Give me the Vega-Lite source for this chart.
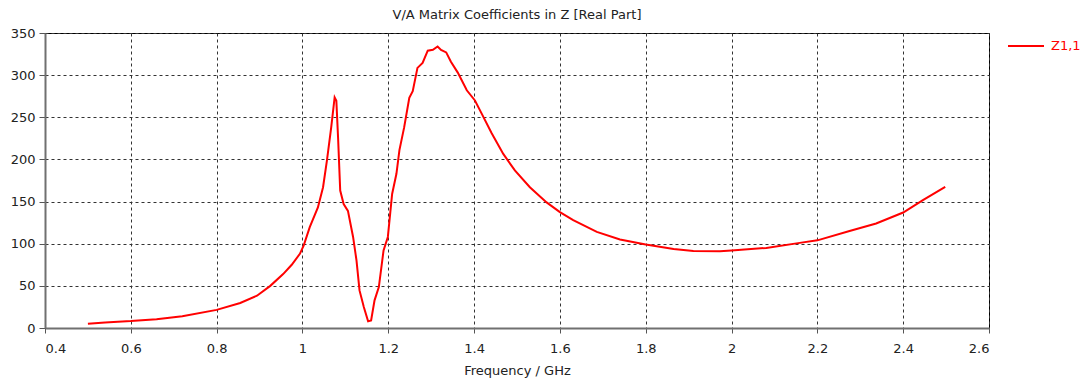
{
  "$schema": "https://vega.github.io/schema/vega-lite/v6.json",
  "width": 944,
  "height": 295,
  "autosize": "none",
  "padding": {"left": 45, "top": 33, "right": 93, "bottom": 53},
  "background": "white",
  "title": {"text": "V/A Matrix Coefficients in Z [Real Part]", "font": "DejaVu Sans", "fontSize": 13, "fontWeight": "normal", "color": "#222", "anchor": "middle", "offset": 5},
  "config": {"view": {"stroke": "black", "strokeWidth": 1}},
  "data": {"values": [
    {"f": 0.50, "z": 5, "s": "Z1,1"},
    {"f": 0.54, "z": 6.6, "s": "Z1,1"},
    {"f": 0.60, "z": 8.2, "s": "Z1,1"},
    {"f": 0.66, "z": 10.5, "s": "Z1,1"},
    {"f": 0.72, "z": 14, "s": "Z1,1"},
    {"f": 0.80, "z": 21.5, "s": "Z1,1"},
    {"f": 0.855, "z": 29.7, "s": "Z1,1"},
    {"f": 0.894, "z": 38.3, "s": "Z1,1"},
    {"f": 0.925, "z": 50, "s": "Z1,1"},
    {"f": 0.955, "z": 64, "s": "Z1,1"},
    {"f": 0.975, "z": 75, "s": "Z1,1"},
    {"f": 0.994, "z": 88, "s": "Z1,1"},
    {"f": 1.003, "z": 98, "s": "Z1,1"},
    {"f": 1.017, "z": 119.6, "s": "Z1,1"},
    {"f": 1.036, "z": 143, "s": "Z1,1"},
    {"f": 1.048, "z": 167, "s": "Z1,1"},
    {"f": 1.057, "z": 198.5, "s": "Z1,1"},
    {"f": 1.067, "z": 238, "s": "Z1,1"},
    {"f": 1.075, "z": 273.5, "s": "Z1,1"},
    {"f": 1.079, "z": 269.5, "s": "Z1,1"},
    {"f": 1.083, "z": 226, "s": "Z1,1"},
    {"f": 1.088, "z": 163, "s": "Z1,1"},
    {"f": 1.096, "z": 147, "s": "Z1,1"},
    {"f": 1.106, "z": 139, "s": "Z1,1"},
    {"f": 1.118, "z": 108, "s": "Z1,1"},
    {"f": 1.126, "z": 80, "s": "Z1,1"},
    {"f": 1.133, "z": 44.6, "s": "Z1,1"},
    {"f": 1.143, "z": 25, "s": "Z1,1"},
    {"f": 1.153, "z": 7.9, "s": "Z1,1"},
    {"f": 1.160, "z": 9, "s": "Z1,1"},
    {"f": 1.168, "z": 32.8, "s": "Z1,1"},
    {"f": 1.178, "z": 48.5, "s": "Z1,1"},
    {"f": 1.189, "z": 92, "s": "Z1,1"},
    {"f": 1.199, "z": 108, "s": "Z1,1"},
    {"f": 1.209, "z": 159, "s": "Z1,1"},
    {"f": 1.219, "z": 183, "s": "Z1,1"},
    {"f": 1.226, "z": 211, "s": "Z1,1"},
    {"f": 1.237, "z": 238, "s": "Z1,1"},
    {"f": 1.249, "z": 273, "s": "Z1,1"},
    {"f": 1.257, "z": 281, "s": "Z1,1"},
    {"f": 1.268, "z": 308.6, "s": "Z1,1"},
    {"f": 1.280, "z": 314.5, "s": "Z1,1"},
    {"f": 1.292, "z": 329, "s": "Z1,1"},
    {"f": 1.304, "z": 330, "s": "Z1,1"},
    {"f": 1.315, "z": 334, "s": "Z1,1"},
    {"f": 1.323, "z": 330, "s": "Z1,1"},
    {"f": 1.335, "z": 327, "s": "Z1,1"},
    {"f": 1.346, "z": 316, "s": "Z1,1"},
    {"f": 1.362, "z": 303, "s": "Z1,1"},
    {"f": 1.383, "z": 282, "s": "Z1,1"},
    {"f": 1.402, "z": 270, "s": "Z1,1"},
    {"f": 1.418, "z": 254, "s": "Z1,1"},
    {"f": 1.441, "z": 231, "s": "Z1,1"},
    {"f": 1.468, "z": 206.5, "s": "Z1,1"},
    {"f": 1.495, "z": 187, "s": "Z1,1"},
    {"f": 1.530, "z": 167, "s": "Z1,1"},
    {"f": 1.569, "z": 149, "s": "Z1,1"},
    {"f": 1.600, "z": 137.5, "s": "Z1,1"},
    {"f": 1.631, "z": 128, "s": "Z1,1"},
    {"f": 1.686, "z": 114, "s": "Z1,1"},
    {"f": 1.740, "z": 105, "s": "Z1,1"},
    {"f": 1.800, "z": 99, "s": "Z1,1"},
    {"f": 1.865, "z": 93.7, "s": "Z1,1"},
    {"f": 1.911, "z": 91.3, "s": "Z1,1"},
    {"f": 1.973, "z": 91, "s": "Z1,1"},
    {"f": 2.000, "z": 92, "s": "Z1,1"},
    {"f": 2.081, "z": 95, "s": "Z1,1"},
    {"f": 2.159, "z": 101, "s": "Z1,1"},
    {"f": 2.200, "z": 104, "s": "Z1,1"},
    {"f": 2.275, "z": 115, "s": "Z1,1"},
    {"f": 2.337, "z": 124, "s": "Z1,1"},
    {"f": 2.400, "z": 137, "s": "Z1,1"},
    {"f": 2.446, "z": 151.6, "s": "Z1,1"},
    {"f": 2.498, "z": 167.5, "s": "Z1,1"}
  ]},
  "mark": {"type": "line", "strokeWidth": 2, "interpolate": "linear"},
  "encoding": {
    "x": {
      "field": "f", "type": "quantitative",
      "scale": {"domain": [0.4, 2.6], "nice": false, "zero": false},
      "axis": {
        "values": [0.4, 0.6, 0.8, 1, 1.2, 1.4, 1.6, 1.8, 2, 2.2, 2.4, 2.6],
        "format": "~g",
        "title": "Frequency / GHz",
        "titleFont": "DejaVu Sans", "titleFontSize": 13, "titleFontWeight": "normal", "titleColor": "#222", "titlePadding": 9,
        "labelFont": "DejaVu Sans", "labelFontSize": 13, "labelColor": "#222", "labelPadding": 9,
        "domainColor": "#707070", "domainWidth": 2,
        "tickColor": "#555", "tickSize": 5, "tickWidth": 1,
        "grid": true, "gridColor": "#333", "gridDash": [3, 3], "gridWidth": 1, "gridOpacity": 1
      }
    },
    "y": {
      "field": "z", "type": "quantitative",
      "scale": {"domain": [0, 350], "nice": false},
      "axis": {
        "values": [0, 50, 100, 150, 200, 250, 300, 350],
        "format": "d",
        "title": null,
        "labelFont": "DejaVu Sans", "labelFontSize": 13, "labelColor": "#222", "labelPadding": 4,
        "domainColor": "#707070", "domainWidth": 2,
        "tickColor": "#555", "tickSize": 6, "tickWidth": 1,
        "grid": true, "gridColor": "#333", "gridDash": [3, 3], "gridWidth": 1, "gridOpacity": 1
      }
    },
    "color": {
      "field": "s", "type": "nominal",
      "scale": {"range": ["#ff0000"]},
      "legend": {
        "title": null, "orient": "none", "legendX": 962, "legendY": -6,
        "symbolType": "stroke", "symbolSize": 1296, "symbolStrokeWidth": 2, "symbolStrokeColor": "#ff0000",
        "labelFont": "DejaVu Sans", "labelFontSize": 13, "labelColor": "#ff0000", "labelOffset": 6
      }
    }
  }
}
